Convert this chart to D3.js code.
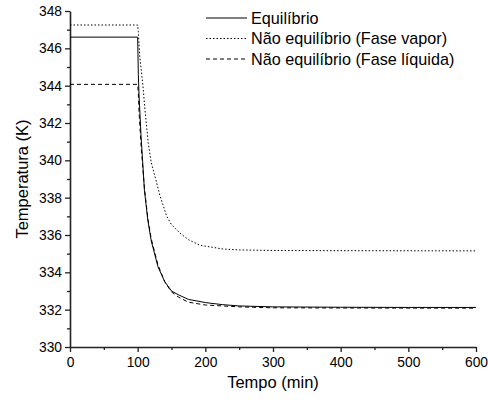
<!DOCTYPE html>
<html>
<head>
  <script src="https://d3js.org/d3.v7.min.js"></script>
  <style>
    body { margin: 0; background: #fff; }
    svg { font-family: "Liberation Sans", Arial, sans-serif; }
    .axis text { font-size: 13.8px; fill: #000; }
    .axis path, .axis line { stroke: #222; }
  </style>
</head>
<body>
  <svg width="488" height="404"></svg>
  <script>
    // tempo (min) / temperatura (K)
    const equilibrio = [
      [0, 346.6], [100, 346.6], [101, 344.6], [102, 343.5], [105, 341.3], [110, 338.4],
      [115, 336.8], [120, 335.7], [130, 334.3], [140, 333.5], [150, 333.0], [160, 332.8],
      [175, 332.55], [200, 332.38], [225, 332.27], [250, 332.2], [300, 332.15],
      [400, 332.13], [500, 332.12], [600, 332.12]
    ];
    const faseVapor = [
      [0, 347.25], [100, 347.25], [101, 346.9], [103, 345.6], [106, 344.6], [108.3, 343.8],
      [110.8, 342.7], [115.7, 340.9], [120, 339.9], [128, 338.8], [133, 338.1], [143, 337.0],
      [150, 336.55], [162.5, 336.1], [175, 335.75], [192, 335.45], [226, 335.25],
      [250, 335.2], [300, 335.17], [400, 335.16], [600, 335.15]
    ];
    const faseLiquida = [
      [0, 344.07], [100, 344.07], [101, 343.6], [102, 342.6], [105, 340.8], [110, 338.5],
      [115, 336.9], [120, 335.8], [130, 334.4], [140, 333.5], [150, 332.95], [160, 332.68],
      [175, 332.4], [200, 332.25], [250, 332.15], [300, 332.1], [400, 332.09], [600, 332.08]
    ];
    const seriesNames = ["Equilíbrio", "Não equilíbrio (Fase vapor)", "Não equilíbrio (Fase líquida)"];
    const dashes = [null, "1.5,2", "4,3"];
    const xTicks = [0, 100, 200, 300, 400, 500, 600];
    const yTicks = [330, 332, 334, 336, 338, 340, 342, 344, 346, 348];

    const svg = d3.select("svg");
    const mLeft = 70, mRight = 476, mTop = 11, mBottom = 347;

    const x = d3.scaleLinear().domain([0, 600]).range([mLeft, mRight]);
    const y = d3.scaleLinear().domain([330, 348]).range([mBottom, mTop]);

    // minor ticks
    const g = svg.append("g");
    g.append("g")
      .attr("class", "axis")
      .attr("transform", `translate(0,${mBottom})`)
      .call(d3.axisBottom(x).tickValues(d3.range(50, 600, 100)).tickSize(3).tickFormat(""))
      .call(s => s.select(".domain").remove());
    g.append("g")
      .attr("class", "axis")
      .attr("transform", `translate(${mLeft},0)`)
      .call(d3.axisLeft(y).tickValues(d3.range(331, 348, 2)).tickSize(3).tickFormat(""))
      .call(s => s.select(".domain").remove());

    g.append("g")
      .attr("class", "axis")
      .attr("transform", `translate(0,${mBottom})`)
      .call(d3.axisBottom(x).tickValues(xTicks).tickSize(5).tickPadding(5).tickSizeOuter(0));
    g.append("g")
      .attr("class", "axis")
      .attr("transform", `translate(${mLeft},0)`)
      .call(d3.axisLeft(y).tickValues(yTicks).tickSize(5).tickPadding(3).tickSizeOuter(0));
    svg.selectAll(".axis path.domain").attr("stroke-width", 1.6);
    svg.selectAll(".axis line").attr("stroke-width", 1.3);

    const line = d3.line().x(d => x(d[0])).y(d => y(d[1]));
    [equilibrio, faseVapor, faseLiquida].forEach((s, i) => {
      g.append("path")
        .datum(s)
        .attr("fill", "none")
        .attr("stroke", "#000")
        .attr("stroke-width", 1)
        .attr("stroke-dasharray", dashes[i])
        .attr("d", line);
    });

    // legend
    const legend = svg.append("g").attr("transform", "translate(206,18)");
    seriesNames.forEach((name, i) => {
      const row = legend.append("g").attr("transform", `translate(0,${i * 20.5})`);
      row.append("line")
        .attr("x1", 0).attr("x2", 41)
        .attr("stroke", "#000")
        .attr("stroke-dasharray", dashes[i]);
      row.append("text")
        .attr("x", 45)
        .attr("dy", "0.36em")
        .style("font-size", "16.2px")
        .text(name);
    });

    svg.append("text")
      .attr("x", (mLeft + mRight) / 2)
      .attr("y", 388)
      .attr("text-anchor", "middle")
      .style("font-size", "16.5px")
      .text("Tempo (min)");
    svg.append("text")
      .attr("transform", `translate(22,${(mTop + mBottom) / 2}) rotate(-90)`)
      .attr("text-anchor", "middle")
      .attr("dy", "0.36em")
      .style("font-size", "16.5px")
      .text("Temperatura (K)");
  </script>
</body>
</html>
